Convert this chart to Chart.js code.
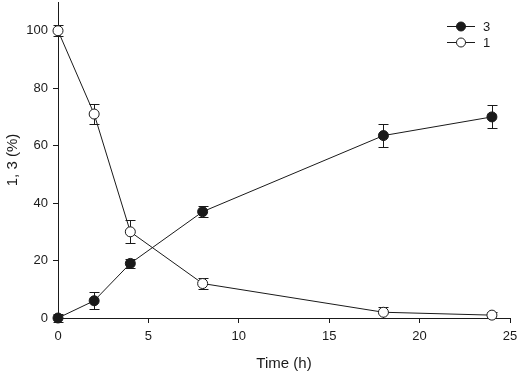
<!DOCTYPE html>
<html>
<head>
<meta charset="utf-8">
<script src="https://cdn.jsdelivr.net/npm/chart.js@4/dist/chart.umd.min.js"></script>
<style>
  html, body { margin: 0; padding: 0; background: #fff; }
  #wrap { width: 519px; height: 373px; position: relative; }
</style>
</head>
<body>
<div id="wrap"><canvas id="chart"></canvas></div>
<script>
// time points (h)
const hours = [0, 2, 4, 8, 18, 24];
// compound 3 (filled) and 1 (open), percent
const series3 = [0, 6, 19, 37, 63.5, 70];
const err3 = [1.5, 3, 1.5, 2, 4, 4];
const series1 = [100, 71, 30, 12, 2, 1];
const err1 = [2, 3.5, 4, 2, 2, 1];
const xTicks = [0, 5, 10, 15, 20, 25];
const yTicks = [0, 20, 40, 60, 80, 100];

const INK = '#1a1a1a';
const FONT = "'Liberation Sans', Arial, sans-serif";

const toPoints = (ys) => hours.map((h, i) => ({ x: h, y: ys[i] }));

// error bars drawn before the markers so the circles sit on top
const errorBars = {
    id: 'errorBars',
    beforeDatasetsDraw(chart) {
        const ctx = chart.ctx;
        const xs = chart.scales.x, ys = chart.scales.y;
        const sets = [[series3, err3], [series1, err1]];
        ctx.save();
        ctx.strokeStyle = INK;
        ctx.lineWidth = 1;
        sets.forEach(([vals, errs]) => {
            vals.forEach((v, i) => {
                const px = Math.round(xs.getPixelForValue(hours[i])) + 0.5;
                const top = Math.round(ys.getPixelForValue(v + errs[i])) + 0.5;
                const bot = Math.round(ys.getPixelForValue(v - errs[i])) + 0.5;
                ctx.beginPath();
                ctx.moveTo(px, top); ctx.lineTo(px, bot);
                ctx.moveTo(px - 5, top); ctx.lineTo(px + 5, top);
                ctx.moveTo(px - 5, bot); ctx.lineTo(px + 5, bot);
                ctx.stroke();
            });
        });
        ctx.restore();
    }
};

// small legend in the top right corner
const cornerLegend = {
    id: 'cornerLegend',
    afterDraw(chart) {
        const ctx = chart.ctx;
        const items = [
            { label: '3', fill: INK, y: 26 },
            { label: '1', fill: '#fff', y: 42 }
        ];
        ctx.save();
        ctx.font = '13px ' + FONT;
        ctx.textBaseline = 'middle';
        items.forEach(it => {
            ctx.strokeStyle = INK;
            ctx.lineWidth = 1;
            ctx.beginPath();
            ctx.moveTo(447, it.y + 0.5); ctx.lineTo(475, it.y + 0.5);
            ctx.stroke();
            ctx.beginPath();
            ctx.arc(461, it.y + 0.5, 4.5, 0, Math.PI * 2);
            ctx.fillStyle = it.fill;
            ctx.fill();
            ctx.stroke();
            ctx.fillStyle = INK;
            ctx.fillText(it.label, 483, it.y + 1);
        });
        ctx.restore();
    }
};

const axisCommon = {
    grid: { display: true, drawOnChartArea: false, drawTicks: true, tickLength: 5, color: INK, lineWidth: 1 },
    border: { display: true, color: INK, width: 1 },
    ticks: { color: INK, font: { family: FONT, size: 13 } }
};

new Chart(document.getElementById('chart'), {
    type: 'line',
    data: {
        datasets: [
            {
                label: '3',
                data: toPoints(series3),
                borderColor: INK,
                borderWidth: 1,
                backgroundColor: INK,
                pointBackgroundColor: INK,
                pointBorderColor: INK,
                pointRadius: 5,
                pointBorderWidth: 1,
                tension: 0,
                clip: false
            },
            {
                label: '1',
                data: toPoints(series1),
                borderColor: INK,
                borderWidth: 1,
                backgroundColor: '#fff',
                pointBackgroundColor: '#fff',
                pointBorderColor: INK,
                pointRadius: 5,
                pointBorderWidth: 1,
                tension: 0,
                clip: false
            }
        ]
    },
    options: {
        responsive: true,
        maintainAspectRatio: false,
        animation: false,
        layout: { autoPadding: false, padding: { left: 0, right: 9, top: 2, bottom: 0 } },
        plugins: { legend: { display: false }, tooltip: { enabled: false } },
        scales: {
            x: {
                ...axisCommon,
                type: 'linear',
                min: 0, max: 25,
                afterBuildTicks: (s) => { s.ticks = xTicks.map(v => ({ value: v })); },
                ticks: { ...axisCommon.ticks, padding: 6, maxRotation: 0 },
                title: { display: true, text: 'Time (h)', color: INK, font: { family: FONT, size: 15 }, padding: { top: 4, bottom: 0 } },
                afterFit: (s) => { s.height = 55; s.paddingLeft = 0; s.paddingRight = 0; }
            },
            y: {
                ...axisCommon,
                min: 0, max: 110,
                afterBuildTicks: (s) => { s.ticks = yTicks.map(v => ({ value: v })); },
                ticks: { ...axisCommon.ticks, padding: 5 },
                title: { display: true, text: '1, 3 (%)', color: INK, font: { family: FONT, size: 15 }, padding: { bottom: 2 } },
                afterFit: (s) => { s.width = 58; s.paddingTop = 0; s.paddingBottom = 0; }
            }
        }
    },
    plugins: [errorBars, cornerLegend]
});
</script>
</body>
</html>
